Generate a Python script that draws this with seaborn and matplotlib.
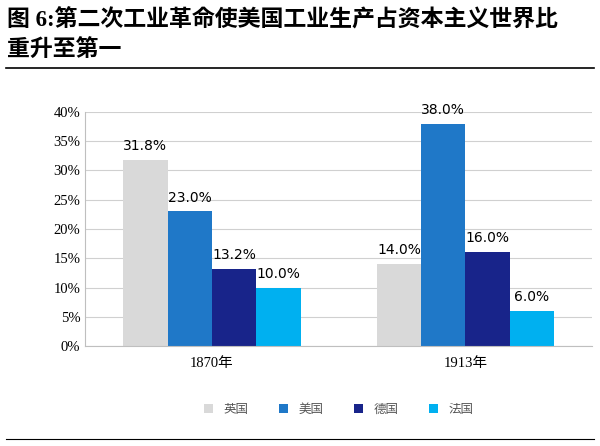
import matplotlib
matplotlib.use("Agg")
import matplotlib.pyplot as plt
from matplotlib import font_manager
import seaborn as sns
import pandas as pd

cjk = [f.name for f in font_manager.fontManager.ttflist if "CJK" in f.name]
cjk_name = cjk[0] if cjk else "DejaVu Sans"
plt.rcParams["font.family"] = ["Liberation Serif", cjk_name]

years = ["1870年", "1913年"]
countries = ["英国", "美国", "德国", "法国"]
share_1870 = [31.8, 23.0, 13.2, 10.0]
share_1913 = [14.0, 38.0, 16.0, 6.0]
colors = ["#d9d9d9", "#1f78c8", "#18248a", "#00b0f0"]

rows = []
for y, vals in zip(years, [share_1870, share_1913]):
    for c, v in zip(countries, vals):
        rows.append({"year": y, "country": c, "share": v})
df = pd.DataFrame(rows)

fig = plt.figure(figsize=(6, 4.46), dpi=100)
fig.text(0.012, 0.955, "图 6:第二次工业革命使美国工业生产占资本主义世界比", fontsize=16.5,
         fontweight="bold", va="center")
fig.text(0.012, 0.885, "重升至第一", fontsize=16.5, fontweight="bold", va="center")
fig.add_artist(plt.Line2D([0.01, 0.99], [0.847, 0.847], color="black", lw=1.2))
fig.add_artist(plt.Line2D([0.01, 0.99], [0.015, 0.015], color="black", lw=0.8))

ax = fig.add_axes([0.142, 0.224, 0.845, 0.525])
sns.barplot(data=df, x="year", y="share", hue="country", palette=colors,
            ax=ax, width=0.7, saturation=1)
for cont in ax.containers:
    ax.bar_label(cont, fmt="%.1f%%", padding=5, fontsize=10, family="DejaVu Sans")
ax.set_ylim(0, 40)
ax.set_yticks(range(0, 41, 5))
ax.set_yticklabels([f"{t}%" for t in range(0, 41, 5)], fontsize=10.5)
ax.set_xlabel("")
ax.set_ylabel("")
ax.tick_params(axis="x", labelsize=10.5, length=0, pad=8)
ax.tick_params(axis="y", length=0)
ax.yaxis.grid(True, color="#d0d0d0", lw=0.8)
ax.set_axisbelow(True)
for s in ["top", "right"]:
    ax.spines[s].set_visible(False)
ax.spines["left"].set_color("#bfbfbf")
ax.spines["bottom"].set_color("#bfbfbf")
ax.legend(loc="upper center", bbox_to_anchor=(0.5, -0.2), ncol=4, frameon=False,
          fontsize=9, handlelength=0.7, handleheight=0.7, columnspacing=2.5,
          labelcolor="#555555")
fig.savefig("out.png", dpi=100)
